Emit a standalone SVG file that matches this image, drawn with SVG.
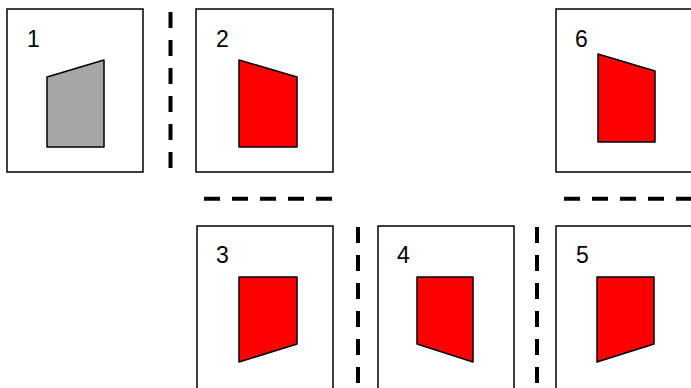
<svg xmlns="http://www.w3.org/2000/svg" width="691" height="388" viewBox="0 0 691 388">
<style>
.box{fill:#fff;stroke:#000;stroke-width:1.5}
.red{fill:#ff0000;stroke:#000;stroke-width:1.5;stroke-linejoin:round}
.gray{fill:#a6a6a6;stroke:#000;stroke-width:1.5;stroke-linejoin:round}
.lbl{font-family:"Liberation Sans","Open Sans",sans-serif;font-size:23px;fill:#000}
.dash{stroke:#000;stroke-width:4;stroke-dasharray:16 12;fill:none}
</style>
<rect width="691" height="388" fill="#fff"/>
<g id="node1">
<rect class="box" x="7" y="9" width="136" height="163"/>
<text class="lbl" x="27" y="47">1</text>
<polygon class="gray" points="47,77 104,60 104,147 47,147"/>
</g>
<g id="node2">
<rect class="box" x="196" y="9" width="137" height="163"/>
<text class="lbl" x="216" y="47">2</text>
<polygon class="red" points="239,60 297,77 297,147 239,147"/>
</g>
<g id="node6">
<rect class="box" x="556" y="9" width="140" height="163"/>
<text class="lbl" x="575" y="47">6</text>
<polygon class="red" points="598,54 655,71 655,142 598,142"/>
</g>
<g id="node3">
<rect class="box" x="197" y="226" width="136" height="165"/>
<text class="lbl" x="216" y="263">3</text>
<polygon class="red" points="239,277 297,277 297,344 239,362"/>
</g>
<g id="node4">
<rect class="box" x="378" y="226" width="136" height="165"/>
<text class="lbl" x="397" y="263">4</text>
<polygon class="red" points="417,277 473,277 473,362 417,344"/>
</g>
<g id="node5">
<rect class="box" x="556" y="226" width="140" height="165"/>
<text class="lbl" x="576" y="263">5</text>
<polygon class="red" points="597,277 654,277 654,344 597,362"/>
</g>
<g id="connectors">
<line class="dash" x1="170.5" y1="12" x2="170.5" y2="168"/>
<line class="dash" x1="204" y1="198.7" x2="334" y2="198.7"/>
<line class="dash" x1="564" y1="198.7" x2="691" y2="198.7"/>
<line class="dash" x1="358" y1="227" x2="358" y2="388"/>
<line class="dash" x1="537" y1="227" x2="537" y2="388"/>
</g>
</svg>
